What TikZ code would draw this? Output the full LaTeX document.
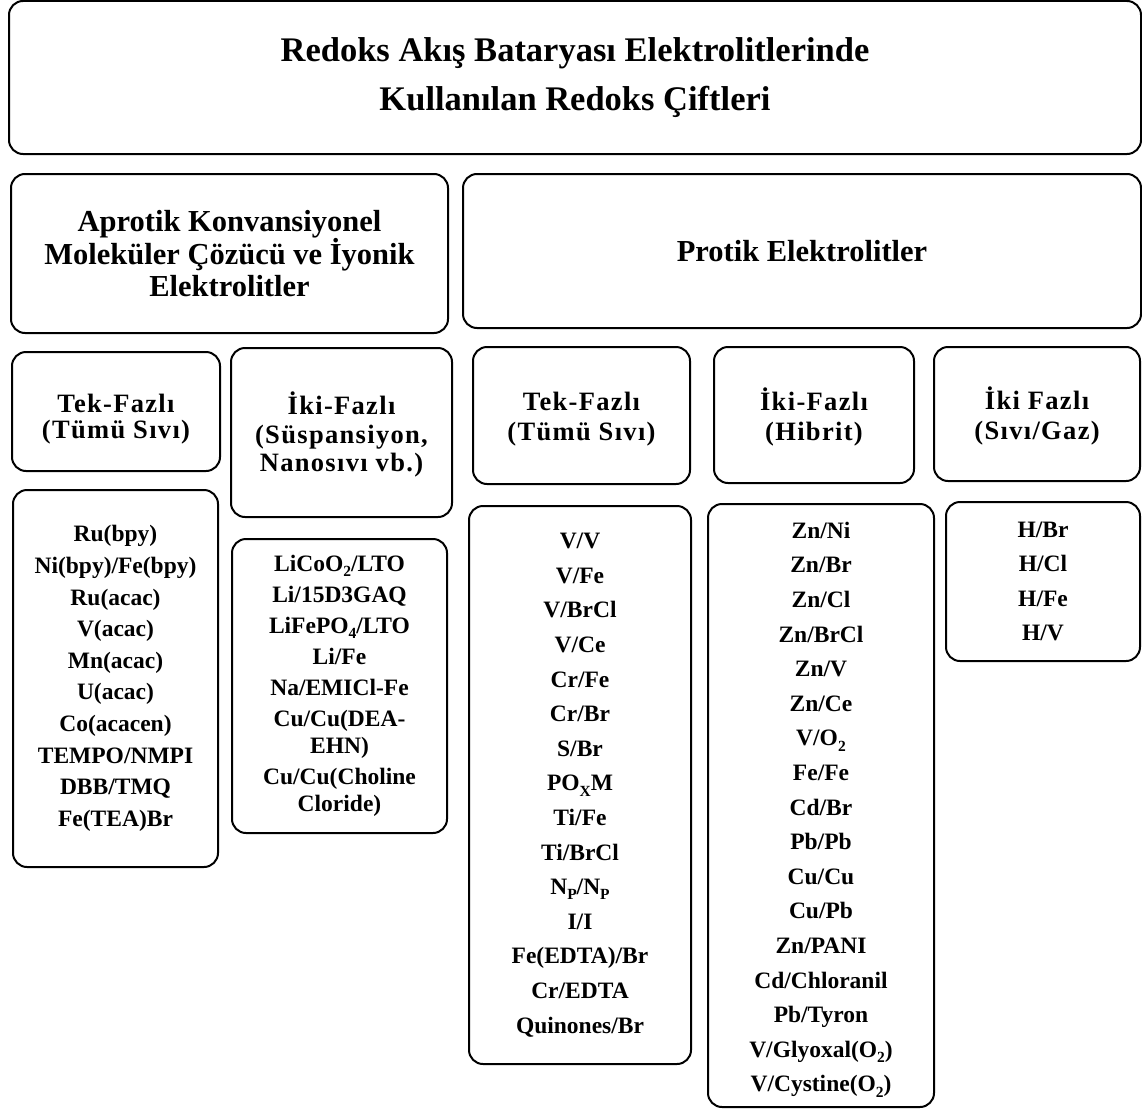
\documentclass[tikz,border=0pt]{standalone}
\usepackage{fontspec}
\setmainfont{Liberation Serif}
\newfontfamily\spacedserif{Liberation Serif}[LetterSpace=5]
\newcommand\lowidx[1]{\raisebox{-0.22em}{\fontsize{15.5}{15.5}\selectfont #1}}
\begin{document}
\begin{tikzpicture}[x=1pt,y=-1pt,
  box/.style={draw, line width=2pt, rounded corners=14pt, inner sep=0pt, align=center},
  txt/.style={inner sep=0pt, align=center},
  ttl/.style={font=\fontsize{34.5}{49}\selectfont\bfseries},
  hdr/.style={font=\fontsize{30.5}{32}\selectfont\bfseries},
  subA/.style={font=\spacedserif\fontsize{26.5}{26}\selectfont\bfseries},
  subB/.style={font=\spacedserif\fontsize{26.5}{28.5}\selectfont\bfseries},
  subC/.style={font=\spacedserif\fontsize{26.5}{30}\selectfont\bfseries},
  lstA/.style={font=\fontsize{23.5}{31.6}\selectfont\bfseries},
  lstB/.style={font=\fontsize{23.5}{31}\selectfont\bfseries},
  lstC/.style={font=\fontsize{23.5}{34.6}\selectfont\bfseries}]
\useasboundingbox (0,0) rectangle (1142,1108);
% title and main groups
\node[box, ttl, minimum width=1132pt, minimum height=153pt] (title) at (575,77.5)
  {Redoks Akış Bataryası Elektrolitlerinde\\Kullanılan Redoks Çiftleri};
\node[box, hdr, minimum width=437pt, minimum height=159pt] (aprotik) at (229.5,253.5)
  {Aprotik Konvansiyonel\\Moleküler Çözücü ve İyonik\\Elektrolitler};
\node[box, hdr, minimum width=678pt, minimum height=154pt] (protik) at (802,251)
  {Protik Elektrolitler};
% sub-group boxes
\node[box, minimum width=208pt, minimum height=119pt] (tekL) at (116,411.5) {};
\node[box, minimum width=221pt, minimum height=169pt] (ikiL) at (341.5,432.5) {};
\node[box, minimum width=217pt, minimum height=137pt] (tekP) at (581.5,415.5) {};
\node[box, minimum width=200pt, minimum height=136pt] (ikiP) at (814,415) {};
\node[box, minimum width=206pt, minimum height=134pt] (gazP) at (1037,414) {};
\node[txt, subA] (tekLt) at ([yshift=-8pt]tekL.center) {Tek-Fazlı\\(Tümü Sıvı)};
\node[txt, subB] (ikiLt) at ([yshift=-2pt]ikiL.center) {İki-Fazlı\\(Süspansiyon,\\Nanosıvı vb.)};
\node[txt, subC] (tekPt) at ([yshift=-4pt]tekP.center) {Tek-Fazlı\\(Tümü Sıvı)};
\node[txt, subC] (ikiPt) at ([yshift=-2pt]ikiP.center) {İki-Fazlı\\(Hibrit)};
\node[txt, subC] (gazPt) at ([yshift=-2pt]gazP.center) {İki Fazlı\\(Sıvı/Gaz)};
% lists
\node[box, lstA, minimum width=205pt, minimum height=377pt] (listL) at (115.5,678.5)
  {Ru(bpy)\\Ni(bpy)/Fe(bpy)\\Ru(acac)\\V(acac)\\Mn(acac)\\U(acac)\\Co(acacen)\\TEMPO/NMPI\\DBB/TMQ\\Fe(TEA)Br};
\node[box, lstB, minimum width=215pt, minimum height=294pt] (listM) at (339.5,686)
  {LiCoO\lowidx{2}/LTO\\Li/15D3GAQ\\LiFePO\lowidx{4}/LTO\\Li/Fe\\Na/EMICl-Fe\\Cu/Cu(DEA-\\[-4pt]EHN)\\Cu/Cu(Choline\\[-4pt]Cloride)};
\node[box, lstC, minimum width=222pt, minimum height=558pt] (listP1) at (580,785)
  {V/V\\V/Fe\\V/BrCl\\V/Ce\\Cr/Fe\\Cr/Br\\S/Br\\PO\lowidx{X}M\\Ti/Fe\\Ti/BrCl\\N\lowidx{P}/N\lowidx{P}\\I/I\\Fe(EDTA)/Br\\Cr/EDTA\\Quinones/Br};
\node[box, minimum width=226pt, minimum height=603pt] (listP2) at (821,805.5) {};
\node[txt, lstC] (listP2t) at ([yshift=-4pt]listP2.center)
  {Zn/Ni\\Zn/Br\\Zn/Cl\\Zn/BrCl\\Zn/V\\Zn/Ce\\V/O\lowidx{2}\\Fe/Fe\\Cd/Br\\Pb/Pb\\Cu/Cu\\Cu/Pb\\Zn/PANI\\Cd/Chloranil\\Pb/Tyron\\V/Glyoxal(O\lowidx{2})\\V/Cystine(O\lowidx{2})};
\node[box, lstC, minimum width=194pt, minimum height=159pt] (listP3) at (1043,581.5)
  {H/Br\\H/Cl\\H/Fe\\H/V};
\end{tikzpicture}
\end{document}
